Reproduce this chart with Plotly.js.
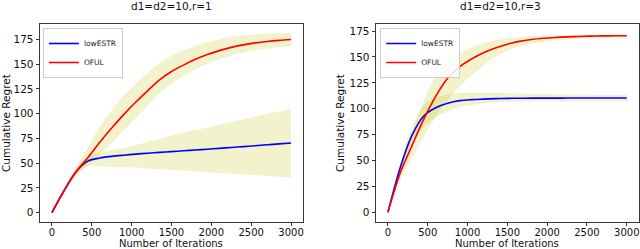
<!DOCTYPE html>
<html>
<head>
<meta charset="utf-8">
<script src="https://cdn.plot.ly/plotly-3.0.1.min.js"></script>
<style>html,body{margin:0;padding:0;background:#fff;}#chart{width:640px;height:249px;}</style>
</head>
<body>
<div id="chart"></div>
<script>
// iterations (shared x grid, step 150)
const iters = [0,150,300,450,600,750,900,1050,1200,1350,1500,1650,1800,1950,2100,2250,2400,2550,2700,2850,3000];

// Panel 1: d1=d2=10, r=1
const r1_low_mean  = [0,21.8,41,52,55.2,56.8,58,59.1,60,60.8,61.6,62.4,63.3,64,64.9,65.8,66.6,67.5,68.5,69.4,70.3];
const r1_low_upper = [0,23.2,44.5,57,61,63.3,65.5,68,71.5,74.5,78,80.8,83.4,86,88.8,91.5,94.2,97,99.6,102.3,105];
const r1_low_lower = [0,20.3,37.5,46.8,46.5,46.1,45.8,45.3,44.6,43.8,43,42.3,41.5,40.8,40,39.2,38.5,37.7,36.9,36.1,35.3];
const r1_oful_mean  = [0,21.8,41,55.5,71,85.5,99,111.5,123,134,142.5,149,154.8,159.6,163.6,166.9,169.4,171.4,172.9,174,174.8];
const r1_oful_upper = [0,23.5,46,65.5,87,103.5,118,130,141,151,158.5,164,168.3,172.1,175.1,177.4,178.9,179.9,180.7,181.2,181.3];
const r1_oful_lower = [0,20.1,37,47.5,59,70.5,83,95.5,108,120.5,130.5,138,144.8,150.3,154.9,158.7,161.6,163.9,165.7,167,168];

// Panel 2: d1=d2=10, r=3
const r3_low_mean  = [0,42,74,93,101,105.3,107.8,108.8,109.3,109.7,110,110.1,110.2,110.2,110.2,110.3,110.3,110.3,110.3,110.3,110.3];
const r3_low_upper = [0,46,83,103.5,111,113.8,115.2,115.5,115.5,115.3,115,114.7,114.4,114.1,113.9,113.8,113.7,113.6,113.5,113.5,113.5];
const r3_low_lower = [0,38.5,66,82.5,92,97.3,101.5,103.5,105,105.9,106.5,106.8,107,107,107,107,107,107,107,107,107];
const r3_oful_mean  = [0,37,64,90,112,129.5,140.5,148,154,158.6,162.3,165,166.8,168,168.8,169.4,169.8,170.1,170.3,170.4,170.5];
const r3_oful_upper = [0,42,76,107,132,146.5,153.5,159,163,166.1,167.8,169,169.8,170.2,170.6,170.9,171.1,171.3,171.4,171.5,171.5];
const r3_oful_lower = [0,31,52,73,92,108.5,121.5,132,142,150.1,156.3,160,162.8,164.5,165.8,166.9,167.6,168.1,168.5,168.8,169];

const xTicks = [0,500,1000,1500,2000,2500,3000];
const yTicks = [0,25,50,75,100,125,150,175];

const bandColor = 'rgba(191,191,0,0.2)';
const FONT = 'DejaVu Sans, sans-serif';

function band(x, lo, hi, xa, ya) {
  return [
    {x: x, y: lo, xaxis: xa, yaxis: ya, mode: 'lines', line: {width: 0, shape: 'spline', smoothing: 0.9}, showlegend: false, hoverinfo: 'skip'},
    {x: x, y: hi, xaxis: xa, yaxis: ya, mode: 'lines', line: {width: 0, shape: 'spline', smoothing: 0.9}, fill: 'tonexty', fillcolor: bandColor, showlegend: false, hoverinfo: 'skip'}
  ];
}
function line(x, y, name, color, xa, ya, leg) {
  return {x: x, y: y, xaxis: xa, yaxis: ya, name: name, mode: 'lines', line: {color: color, width: 1.6, shape: 'spline', smoothing: 0.9}, legend: leg};
}

const data = [].concat(
  band(iters, r1_low_lower, r1_low_upper, 'x', 'y'),
  band(iters, r1_oful_lower, r1_oful_upper, 'x', 'y'),
  [line(iters, r1_low_mean, 'lowESTR', '#0000ff', 'x', 'y', 'legend'),
   line(iters, r1_oful_mean, 'OFUL', '#ff0000', 'x', 'y', 'legend')],
  band(iters, r3_low_lower, r3_low_upper, 'x2', 'y2'),
  band(iters, r3_oful_lower, r3_oful_upper, 'x2', 'y2'),
  [line(iters, r3_low_mean, 'lowESTR', '#0000ff', 'x2', 'y2', 'legend2'),
   line(iters, r3_oful_mean, 'OFUL', '#ff0000', 'x2', 'y2', 'legend2')]
);

function xax(domain, anchor) {
  return {domain: domain, anchor: anchor, range: [-150, 3150], tickvals: xTicks, ticktext: xTicks.map(String),
    ticks: 'outside', ticklen: 3, tickwidth: 0.8, tickcolor: '#000', showline: true, mirror: true,
    linecolor: '#222', linewidth: 0.9, showgrid: false, zeroline: false, ticklabeloverflow: 'allow',
    ticklabelstandoff: -2,
    tickfont: {family: FONT, size: 10, color: '#111'}};
}
function yax(range, anchor) {
  return {domain: [0.1084, 0.9036], anchor: anchor, range: range, tickvals: yTicks, ticktext: yTicks.map(String),
    ticks: 'outside', ticklen: 3.5, tickwidth: 0.8, tickcolor: '#000', showline: true, mirror: true,
    linecolor: '#222', linewidth: 0.9, showgrid: false, zeroline: false,
    tickfont: {family: FONT, size: 10.5, color: '#111'}};
}
function legendBox(x) {
  return {x: x, y: 0.8876, xanchor: 'left', yanchor: 'top', bgcolor: 'rgba(255,255,255,0.85)',
    bordercolor: '#cccccc', borderwidth: 1, font: {family: FONT, size: 7.5, color: '#222'},
    tracegroupgap: 0, itemwidth: 30, traceorder: 'normal'};
}

const ann = (text, x, y, opts) => Object.assign({text: text, x: x, y: y, xref: 'paper', yref: 'paper',
  showarrow: false, xanchor: 'center', yanchor: 'middle', font: {family: FONT, size: 10.5, color: '#111'}}, opts || {});

const layout = {
  width: 640, height: 249,
  margin: {l: 0, r: 0, t: 0, b: 0},
  paper_bgcolor: '#fff', plot_bgcolor: '#fff',
  showlegend: true,
  xaxis: xax([0.0625, 0.4734], 'y'),
  yaxis: yax([-9.5, 190.5], 'x'),
  xaxis2: xax([0.5875, 0.998], 'y2'),
  yaxis2: yax([-9.4, 181.8], 'x2'),
  legend: legendBox(0.067),
  legend2: legendBox(0.594),
  annotations: [
    ann('d1=d2=10,r=1', 171 / 640, 1 - 6 / 249),
    ann('d1=d2=10,r=3', 500 / 640, 1 - 6 / 249),
    ann('Number of Iterations', 171 / 640, 1 - 243.5 / 249, {font: {family: FONT, size: 10, color: '#111'}}),
    ann('Number of Iterations', 507 / 640, 1 - 243.5 / 249, {font: {family: FONT, size: 10, color: '#111'}}),
    ann('Cumulative Regret', 6 / 640, 1 - 123 / 249, {textangle: -90}),
    ann('Cumulative Regret', 340 / 640, 1 - 123 / 249, {textangle: -90})
  ]
};

Plotly.newPlot('chart', data, layout, {staticPlot: true, displayModeBar: false});
</script>
</body>
</html>
